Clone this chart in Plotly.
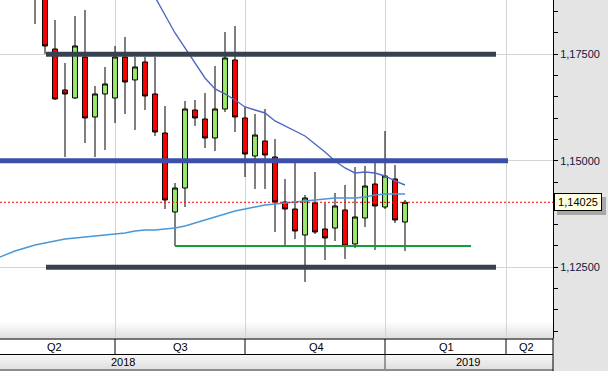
import plotly.graph_objects as go

# ---------------- data (weekly EUR/USD candles) ----------------
week_idx = list(range(38))
opens = [1.19478, 1.18961, 1.17623, 1.16661, 1.16473, 1.17435, 1.16027, 1.16567, 1.16473, 1.17435,
         1.16896, 1.17318, 1.16567, 1.15651, 1.13797, 1.14360, 1.16191, 1.15980, 1.15534, 1.16215,
         1.17365, 1.16004, 1.15112, 1.15464, 1.15088, 1.14032, 1.13867, 1.13257, 1.14008, 1.13398,
         1.13421, 1.13844, 1.13046, 1.13656, 1.14454, 1.13914, 1.14572, 1.13562]
highs = [1.19712, 1.19126, 1.18304, 1.17295, 1.18398, 1.18539, 1.16755, 1.17201, 1.17694, 1.17905,
         1.17435, 1.17435, 1.17435, 1.16285, 1.14478, 1.16403, 1.16426, 1.16590, 1.17224, 1.18022,
         1.18163, 1.16262, 1.16097, 1.16215, 1.15511, 1.14572, 1.14971, 1.14196, 1.14736, 1.14008,
         1.14243, 1.14431, 1.14853, 1.14877, 1.14971, 1.15698, 1.14900, 1.14079]
lows = [1.18210, 1.17506, 1.16426, 1.15088, 1.16450, 1.15417, 1.15088, 1.15252, 1.15886, 1.16097,
        1.15722, 1.16191, 1.15581, 1.13867, 1.12999, 1.13914, 1.15816, 1.15299, 1.15229, 1.16144,
        1.15675, 1.14619, 1.14337, 1.14337, 1.13327, 1.13022, 1.13163, 1.12154, 1.13281, 1.12670,
        1.13116, 1.12694, 1.12952, 1.13445, 1.12905, 1.13867, 1.13539, 1.12881]
closes = [1.18891, 1.17694, 1.16450, 1.16567, 1.17694, 1.16004, 1.16567, 1.16802, 1.17435, 1.16849,
          1.17201, 1.16520, 1.15675, 1.14079, 1.14360, 1.16215, 1.16004, 1.15534, 1.16215, 1.17412,
          1.16027, 1.15158, 1.15604, 1.15135, 1.14032, 1.13867, 1.13351, 1.14126, 1.13327, 1.13187,
          1.13938, 1.12999, 1.13680, 1.14407, 1.13938, 1.14642, 1.13609, 1.14025]

ma_long_idx = list(range(-4, 38))
ma_long = [1.12694, 1.12788, 1.12881, 1.12952, 1.13022, 1.13069, 1.13116, 1.13163, 1.13187, 1.13210,
           1.13234, 1.13257, 1.13281, 1.13304, 1.13351, 1.13374, 1.13374, 1.13398, 1.13421, 1.13468,
           1.13539, 1.13609, 1.13680, 1.13750, 1.13820, 1.13867, 1.13914, 1.13961, 1.13985, 1.14008,
           1.14032, 1.14055, 1.14079, 1.14102, 1.14126, 1.14126, 1.14126, 1.14149, 1.14196, 1.14220,
           1.14220, 1.14220]
ma_short_idx = list(range(11, 38))
ma_short = [1.19360, 1.18844, 1.18421, 1.17999, 1.17647, 1.17295, 1.16942, 1.16684, 1.16567, 1.16426,
            1.16262, 1.16191, 1.16121, 1.15933, 1.15816, 1.15698, 1.15581, 1.15393, 1.15205, 1.14994,
            1.14830, 1.14712, 1.14736, 1.14712, 1.14642, 1.14525, 1.14431]

level_values = [1.1750, 1.1500, 1.1250, 1.1300]
level_start = [1.1, -3.5, 1.1, 14.0]
level_end = [46.1, 47.3, 46.1, 43.6]
last_price = 1.14025

quarter_bounds = [8, 21, 35, 47.1]
quarter_labels = ["Q2", "Q3", "Q4", "Q1", "Q2"]
quarter_centers = [1.9, 14.5, 28.1, 41.1, 49.1]
year_labels = ["2018", "2019"]
year_centers = [8.8, 43.3]
year_bounds = [35]

# ---------------- figure ----------------
X_RANGE = [-3.5, 51.8]
Y_RANGE = [1.10839, 1.18773]
FONT = "Liberation Sans, Arial, sans-serif"

fig = go.Figure()

fig.add_trace(go.Candlestick(
    x=week_idx, open=opens, high=highs, low=lows, close=closes,
    increasing=dict(fillcolor="#9bea6b", line=dict(color="black", width=1)),
    decreasing=dict(fillcolor="#ff0000", line=dict(color="black", width=1)),
    whiskerwidth=0, hoverinfo="skip", showlegend=False))

fig.add_trace(go.Scatter(x=ma_long_idx, y=ma_long, mode="lines",
                         line=dict(color="#4a97d6", width=1.4), hoverinfo="skip", showlegend=False))
fig.add_trace(go.Scatter(x=ma_short_idx, y=ma_short, mode="lines",
                         line=dict(color="#5068c2", width=1.4), hoverinfo="skip", showlegend=False))

level_styles = [("#37424e", 5), ("#3b4fa8", 5), ("#37424e", 5), ("#169b3a", 2)]
for v, s, e, (col, w) in zip(level_values, level_start, level_end, level_styles):
    fig.add_trace(go.Scatter(x=[s, e], y=[v, v], mode="lines",
                             line=dict(color=col, width=w), hoverinfo="skip", showlegend=False))

shapes = []
# bottom gradient inside plot area
grad = ["#fdfdfd", "#f9f9f9", "#f5f5f5", "#f1f1f1", "#ededed", "#e9e9e9", "#e5e5e5", "#e1e1e1"]
PH = 338.0
for k, c in enumerate(grad):
    shapes.append(dict(type="rect", xref="paper", yref="paper", x0=0, x1=1,
                       y0=(16 - 2 * k - 2) / PH, y1=(16 - 2 * k) / PH,
                       fillcolor=c, line=dict(width=0), layer="below"))
# last-price dotted line
shapes.append(dict(type="line", xref="paper", yref="y", x0=0, x1=1, y0=last_price, y1=last_price,
                   line=dict(color="#ff0000", width=1, dash="2px,2px"), layer="above"))
# bottom time axis rows
def py(px):
    return (PH - px) / PH
shapes.append(dict(type="rect", xref="paper", yref="paper", x0=0, x1=1, y0=py(354), y1=py(339.5),
                   fillcolor="white", line=dict(width=0)))
ygrad = ["#f6f6f6", "#f1f1f1", "#ececec", "#e7e7e7", "#e2e2e2"]
for k, c in enumerate(ygrad):
    shapes.append(dict(type="rect", xref="paper", yref="paper", x0=0, x1=1,
                       y0=py(354 + 3 * (k + 1)), y1=py(354 + 3 * k),
                       fillcolor=c, line=dict(width=0)))
shapes.append(dict(type="line", xref="paper", yref="paper", x0=0, x1=1, y0=py(339), y1=py(339),
                   line=dict(color="black", width=1)))
shapes.append(dict(type="line", xref="paper", yref="paper", x0=0, x1=1, y0=py(354.5), y1=py(354.5),
                   line=dict(color="black", width=1)))
shapes.append(dict(type="line", xref="paper", yref="paper", x0=0, x1=1, y0=py(370), y1=py(370),
                   line=dict(color="#8c8c8c", width=2)))
shapes.append(dict(type="line", xref="paper", yref="paper", x0=1, x1=1, y0=py(371), y1=py(338),
                   line=dict(color="black", width=1)))
for b in quarter_bounds:
    shapes.append(dict(type="line", xref="x", yref="paper", x0=b, x1=b, y0=py(354.5), y1=py(339),
                       line=dict(color="black", width=1)))
for b in year_bounds:
    shapes.append(dict(type="line", xref="x", yref="paper", x0=b, x1=b, y0=py(369), y1=py(354.5),
                       line=dict(color="#444444", width=1)))
# price label shadow
shapes.append(dict(type="rect", xref="paper", yref="paper", x0=557 / 553, x1=606 / 553,
                   y0=py(215), y1=py(197), fillcolor="#a8a8a8", line=dict(width=0), layer="above"))

annotations = []
for lab, c in zip(quarter_labels, quarter_centers):
    annotations.append(dict(x=c, y=py(347), xref="x", yref="paper", text=lab, showarrow=False,
                            font=dict(family=FONT, size=11, color="black"), yanchor="middle"))
for lab, c in zip(year_labels, year_centers):
    annotations.append(dict(x=c, y=py(362), xref="x", yref="paper", text=lab, showarrow=False,
                            font=dict(family=FONT, size=11, color="black"), yanchor="middle"))
annotations.append(dict(x=1, xref="paper", y=last_price, yref="y", xanchor="left", xshift=1,
                        text="1,14025", showarrow=False, width=44, height=14, borderpad=1,
                        bgcolor="#ffffe1", bordercolor="black", borderwidth=1,
                        font=dict(family=FONT, size=11, color="black")))

fig.update_layout(
    width=608, height=371,
    margin=dict(l=0, r=55, t=0, b=33),
    paper_bgcolor="#e4e4e4", plot_bgcolor="white",
    separators=",.",
    hovermode=False,
    shapes=shapes, annotations=annotations,
    xaxis=dict(range=X_RANGE, fixedrange=True, rangeslider=dict(visible=False),
               tickvals=quarter_bounds, showticklabels=False, ticks="",
               showgrid=True, gridcolor="#d4d4d4", gridwidth=1, zeroline=False, showline=False),
    yaxis=dict(range=Y_RANGE, side="right", fixedrange=True, tick0=1.0, dtick=0.025,
               tickformat=".5f", showgrid=True, gridcolor="#d4d4d4", gridwidth=1, zeroline=False,
               showline=True, linecolor="black", linewidth=1, ticks="outside", ticklen=4,
               tickcolor="black", tickfont=dict(family=FONT, size=11, color="#14143c"),
               minor=dict(dtick=0.005, tick0=1.0, ticks="outside", ticklen=4, tickcolor="black",
                          showgrid=False)),
)

fig.write_html("out.html")
